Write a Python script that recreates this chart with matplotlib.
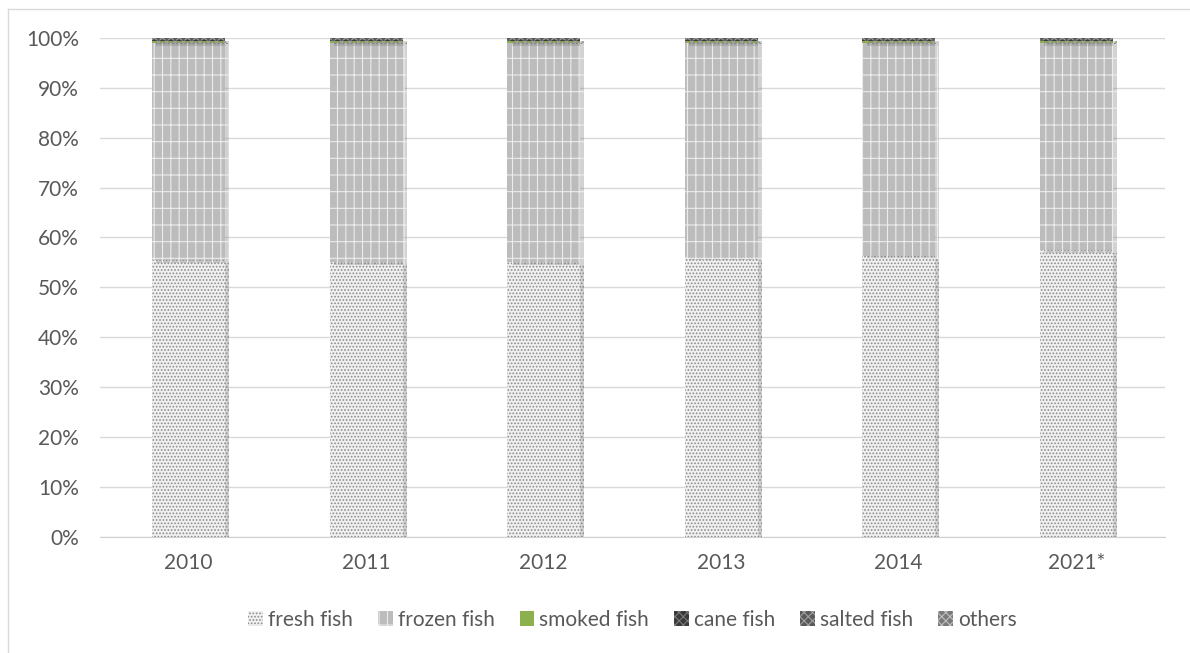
import matplotlib.pyplot as plt
import matplotlib.patheffects as pe
from matplotlib.patches import Patch
from matplotlib.lines import Line2D

plt.rcParams['font.family'] = ['Lato', 'DejaVu Sans']
plt.rcParams['hatch.linewidth'] = 0.8

# datos (% del total)
years = ["2010", "2011", "2012", "2013", "2014", "2021*"]
fresh_fish = [55.5, 55.1, 55.1, 56.0, 56.3, 57.5]
frozen_fish = [43.4, 43.8, 43.8, 42.9, 42.6, 41.4]
smoked_fish = [0.5, 0.5, 0.5, 0.5, 0.5, 0.5]
cane_fish = [0.2, 0.2, 0.2, 0.2, 0.2, 0.2]
salted_fish = [0.3, 0.3, 0.3, 0.3, 0.3, 0.3]
others = [0.1, 0.1, 0.1, 0.1, 0.1, 0.1]

series = [
    ("fresh fish", fresh_fish, "#f0f0f0", "#8c8c8c", "....."),
    ("frozen fish", frozen_fish, "#bcbcbc", "#ececec", "|+"),
    ("smoked fish", smoked_fish, "#8db04f", "#8db04f", None),
    ("cane fish", cane_fish, "#3a3a3a", "#7a7a7a", "xxxx"),
    ("salted fish", salted_fish, "#5a5a5a", "#a0a0a0", "xxxx"),
    ("others", others, "#7a7a7a", "#c0c0c0", "xxxx"),
]

fig = plt.figure(figsize=(11.9, 6.53), dpi=100)
ax = fig.add_axes([0.084, 0.178, 0.895, 0.764])

x = range(len(years))
bottom = [0] * len(years)
sombra = [pe.SimplePatchShadow(offset=(3, -2), shadow_rgbFace="#808080", alpha=0.35), pe.Normal()]
for nombre, vals, fc, hc, hatch in series:
    bars = ax.bar(x, [v / 100 for v in vals], width=0.41, bottom=[b / 100 for b in bottom],
                  color=fc, edgecolor=hc, linewidth=0, hatch=hatch, zorder=3)
    for b in bars:
        b.set_path_effects(sombra)
    bottom = [b + v for b, v in zip(bottom, vals)]

ax.set_xlim(-0.5, len(years) - 0.5)
ax.set_ylim(0, 1)
ax.set_yticks([i / 10 for i in range(11)])
ax.set_yticklabels([f"{i * 10}%" for i in range(11)])
ax.set_xticks(list(x))
ax.set_xticklabels(years)
ax.grid(axis="y", color="#d9d9d9", linewidth=1, zorder=0)
for s in ["left", "right", "top"]:
    ax.spines[s].set_visible(False)
ax.spines["bottom"].set_color("#d0d0d0")
ax.tick_params(axis="both", length=0, labelsize=15, colors="#595959")
ax.tick_params(axis="x", pad=12)
ax.tick_params(axis="y", pad=15)

handles = [Patch(facecolor=fc, edgecolor=hc, linewidth=0, hatch=h) for _, _, fc, hc, h in series]
leg = ax.legend(handles, [s[0] for s in series], loc="center", bbox_to_anchor=(0.5, -0.166),
                ncol=6, frameon=False, fontsize=15, handlelength=0.7, handleheight=0.7,
                handletextpad=0.25, columnspacing=1.2)
for t in leg.get_texts():
    t.set_color("#595959")

# marco exterior
fig.add_artist(Line2D([8 / 1190, 8 / 1190], [0, 1 - 9 / 653], color="#d9d9d9", linewidth=1))
fig.add_artist(Line2D([8 / 1190, 1], [1 - 9 / 653, 1 - 9 / 653], color="#d9d9d9", linewidth=1))

fig.savefig("out.png", dpi=100)
